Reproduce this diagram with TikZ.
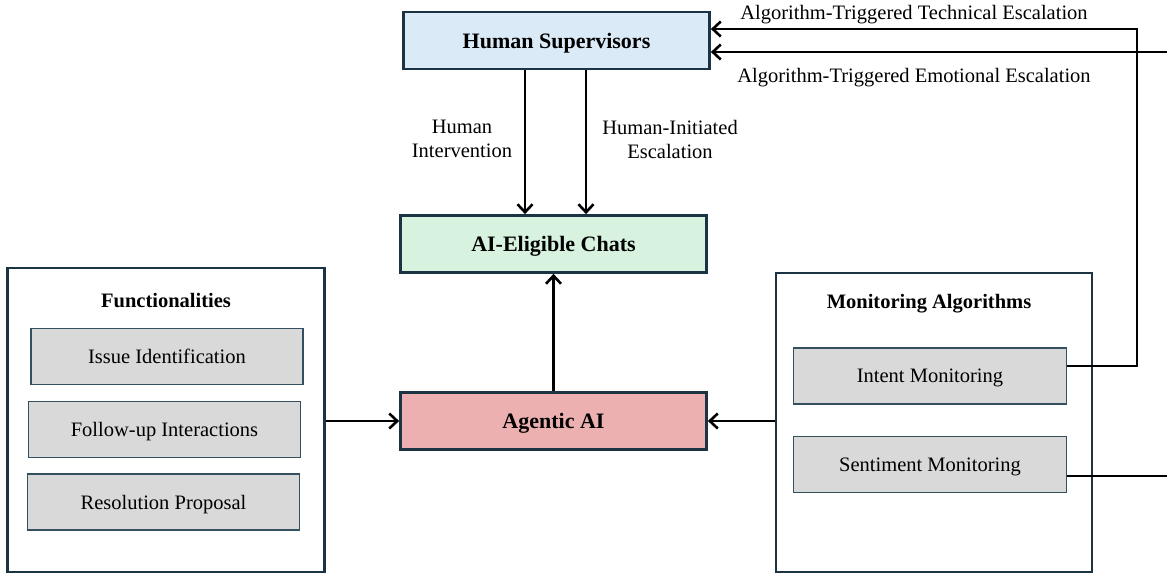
\documentclass[tikz,border=0pt]{standalone}
\usepackage{fontspec}
\setmainfont{Liberation Serif}
\usetikzlibrary{arrows.meta}
\definecolor{bordc}{HTML}{1C3344}
\definecolor{innerc}{HTML}{34505E}
\definecolor{bluef}{HTML}{DAEAF6}
\definecolor{greenf}{HTML}{D7F2DE}
\definecolor{pinkf}{HTML}{ECB0B0}
\definecolor{greyf}{HTML}{D9D9D9}
\tikzset{
  mainbox/.style={draw=bordc, line width=2.7pt, minimum width=306pt, minimum height=57pt, inner sep=0pt,
    text depth=0pt, font=\fontsize{22pt}{26pt}\selectfont\bfseries},
  groupbox/.style={draw=bordc, line width=2.7pt, fill=white, inner sep=0pt},
  itembox/.style={draw=innerc, line width=1.6pt, fill=greyf, minimum width=272pt, minimum height=56pt, inner sep=0pt,
    text depth=0pt, font=\fontsize{20.5pt}{24pt}\selectfont},
  grouptitle/.style={inner sep=0pt, font=\fontsize{20.5pt}{24pt}\selectfont\bfseries},
  lbl/.style={inner sep=0pt, align=center, font=\fontsize{20.5pt}{24pt}\selectfont},
  arr/.style={draw=black, line width=2.8pt, -{Straight Barb[length=8pt,width=15pt,line width=2.6pt]}},
  ln/.style={draw=black, line width=2.8pt},
}
\begin{document}
\begin{tikzpicture}[x=1pt,y=-1pt]
\useasboundingbox (0,0) rectangle (1167,573);
% main boxes
\node[mainbox, fill=bluef] (hs) at (556.5,40.5) {Human Supervisors};
\node[mainbox, fill=greenf] (chats) at (553.5,244) {AI-Eligible Chats};
\node[mainbox, fill=pinkf] (agent) at (553.5,421) {Agentic AI};
% group boxes
\node[groupbox, minimum width=317pt, minimum height=304pt] (func) at (166,420) {};
\node[grouptitle] (functitle) at (166,301) {Functionalities};
\node[itembox] (issue) at (167,356.5) {Issue Identification};
\node[itembox] (follow) at (164.5,429.5) {Follow-up Interactions};
\node[itembox] (resol) at (163.5,502) {Resolution Proposal};
\node[groupbox, minimum width=316pt, minimum height=299pt] (mon) at (934,422.5) {};
\node[grouptitle] (montitle) at (929,304) {Monitoring Algorithms};
\node[itembox, minimum width=273pt] (intent) at (930,376) {Intent Monitoring};
\node[itembox, minimum width=273pt] (senti) at (930,464.5) {Sentiment Monitoring};
% coordinates
\coordinate (turn) at (1137,29);
\coordinate (edgeA) at (1168,52);
\coordinate (edgeB) at (1168,476);
% connectors
\draw[arr] (hs.south -| 525,0) -- (chats.north -| 525,0);
\draw[arr] (hs.south -| 586,0) -- (chats.north -| 586,0);
\draw[arr] (agent.north) -- (chats.south);
\draw[arr] (func.east |- 0,421) -- (agent.west |- 0,421);
\draw[arr] (mon.west |- 0,421) -- (agent.east |- 0,421);
\draw[arr] (intent.east |- 0,366) -| (turn) -- (hs.east |- turn);
\draw[arr] (edgeA) -- (hs.east |- edgeA);
\draw[ln] (senti.east |- edgeB) -- (edgeB);
% labels
\node[lbl] (l1) at (914,15) {Algorithm-Triggered Technical Escalation};
\node[lbl] (l2) at (914,78) {Algorithm-Triggered Emotional Escalation};
\node[lbl] (l3) at (462,139) {Human\\Intervention};
\node[lbl] (l4) at (670,139) {Human-Initiated\\Escalation};
\end{tikzpicture}
\end{document}
